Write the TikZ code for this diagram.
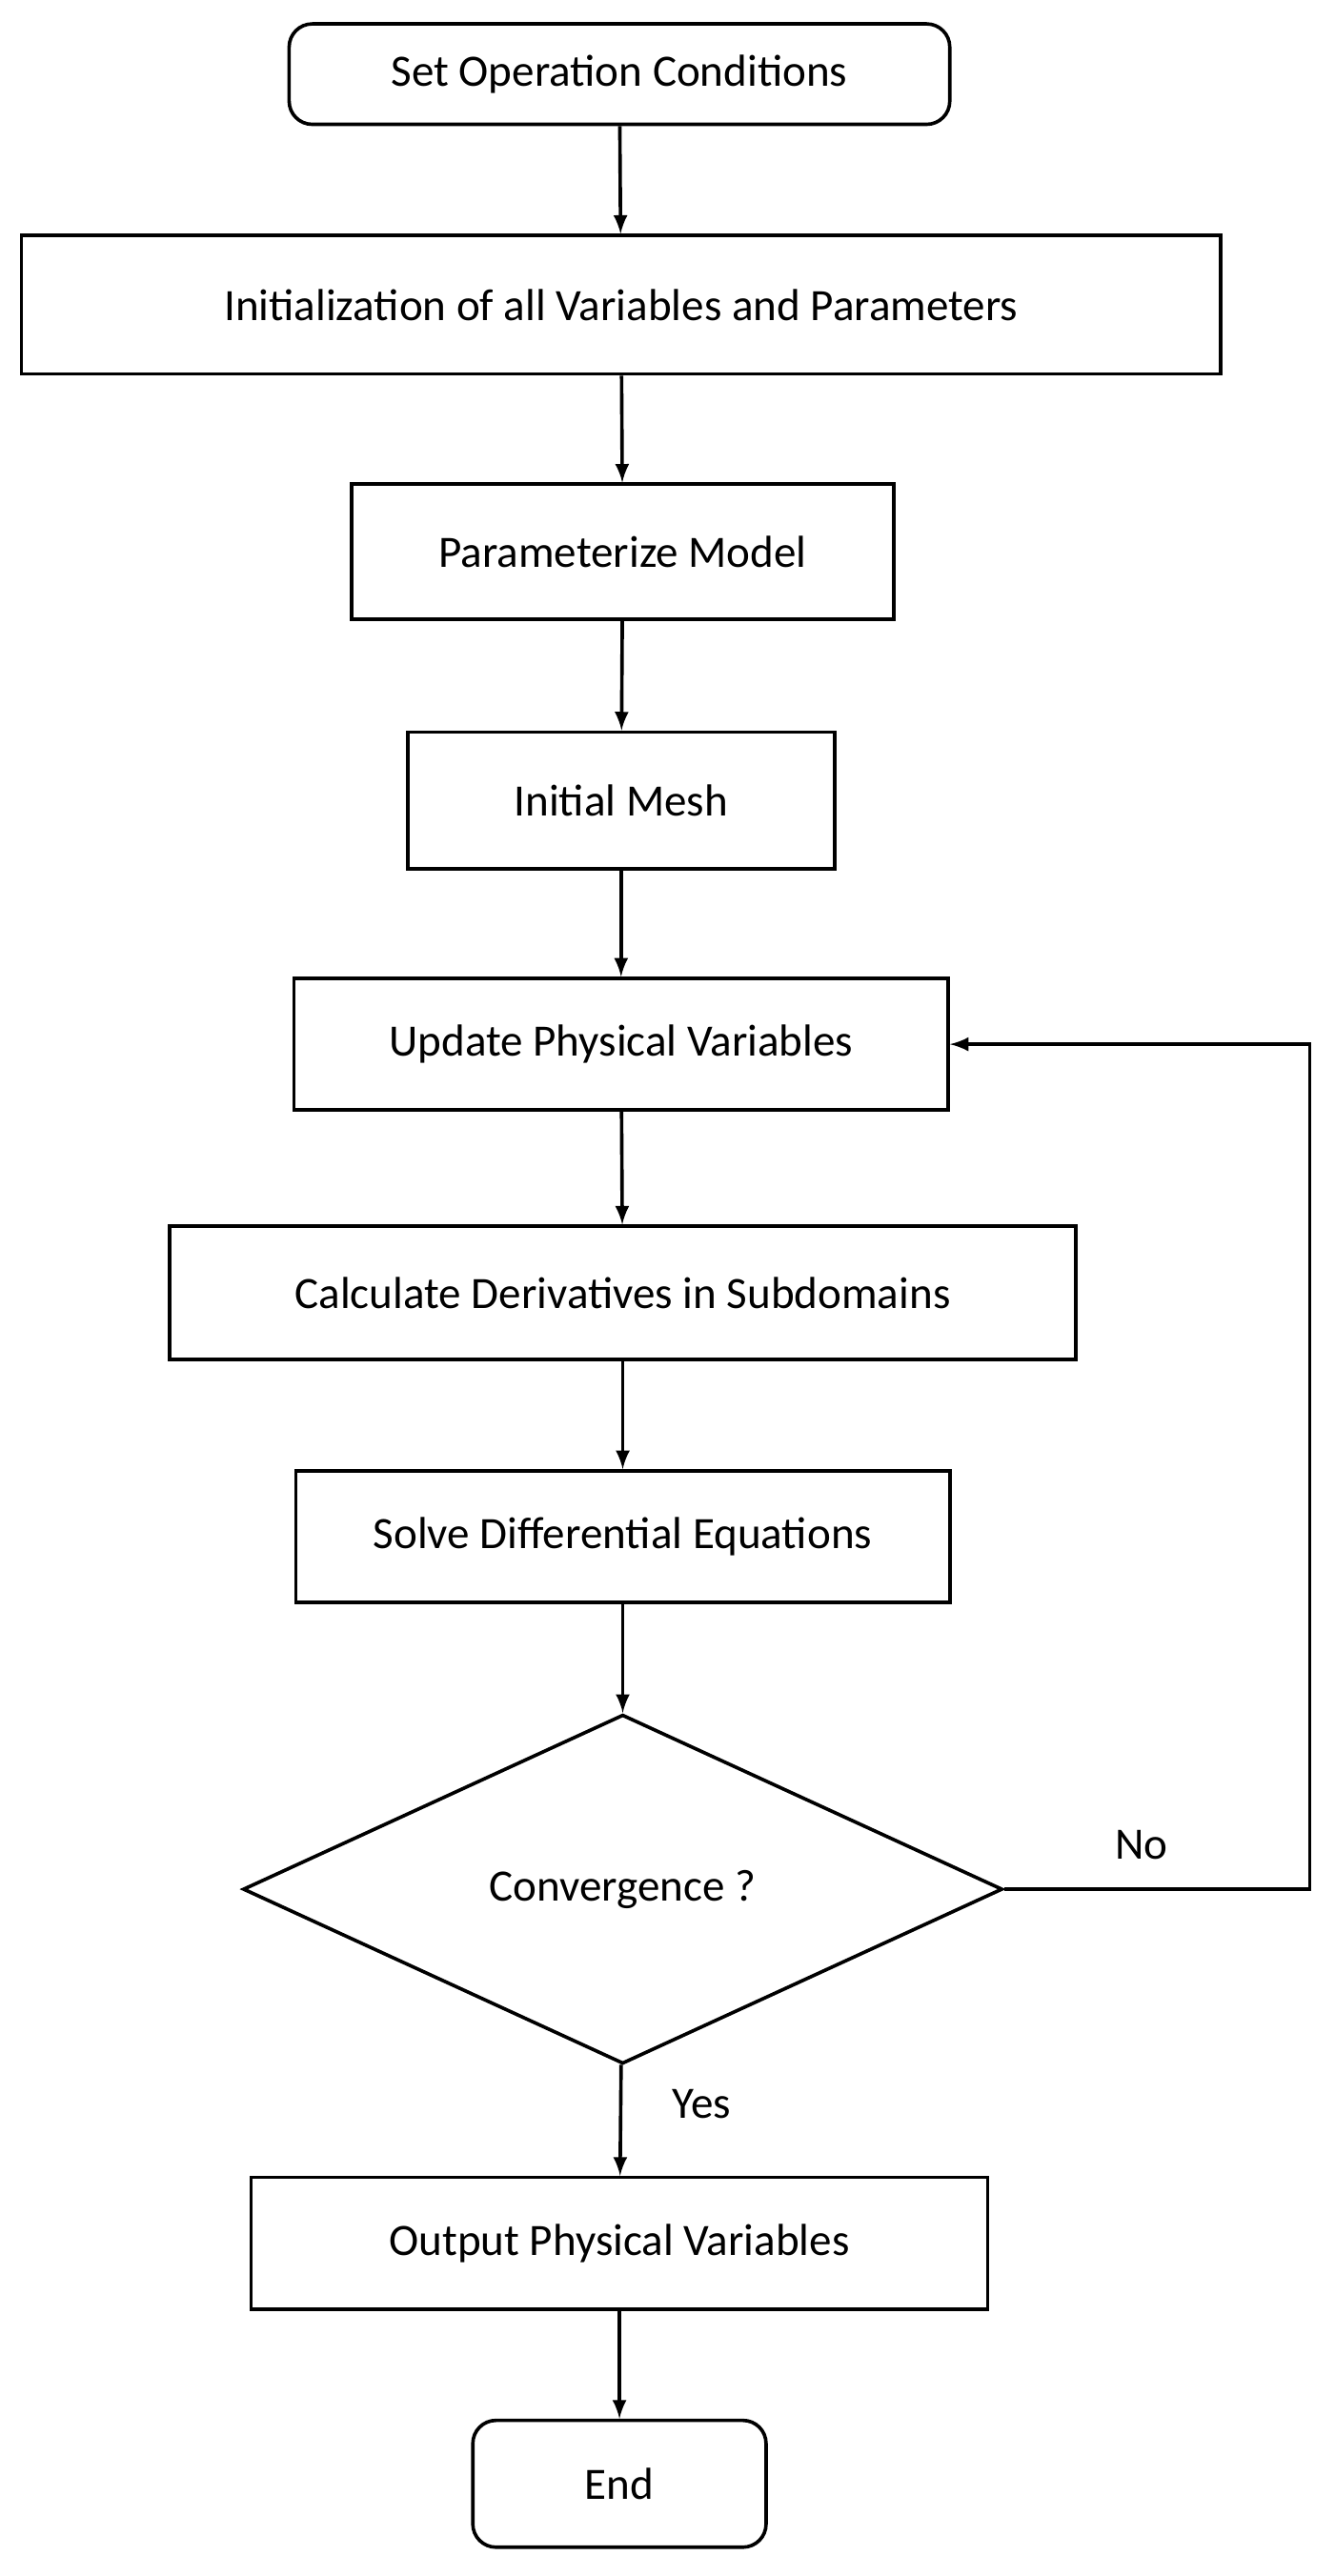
\documentclass[tikz,border=0pt]{standalone}
\usepackage{fontspec}
\setmainfont{Carlito}
\usetikzlibrary{shapes.geometric}

\begin{document}
\begin{tikzpicture}[x=0.02cm, y=-0.02cm,
  box/.style={draw, line width=1.2pt, inner sep=0pt, font=\fontsize{15.5}{18}\selectfont},
  flow/.style={->, line width=1.2pt, >=latex}]
\useasboundingbox (0,0) rectangle (810,1564);

\node[box, rounded corners=8pt, minimum width=401*0.02cm, minimum height=61*0.02cm] (set conditions) at (376,45) {Set Operation Conditions};
\node[box, minimum width=728*0.02cm, minimum height=84*0.02cm] (initialization) at (377,185) {Initialization of all Variables and Parameters};
\node[box, minimum width=329*0.02cm, minimum height=82*0.02cm] (parameterize) at (378,335) {Parameterize Model};
\node[box, minimum width=259*0.02cm, minimum height=83*0.02cm] (initial mesh) at (377,486) {Initial Mesh};
\node[box, minimum width=397*0.02cm, minimum height=80*0.02cm] (update) at (377,634) {Update Physical Variables};
\node[box, minimum width=550*0.02cm, minimum height=81*0.02cm] (derivatives) at (378,785) {Calculate Derivatives in Subdomains};
\node[box, minimum width=397*0.02cm, minimum height=80*0.02cm] (solve) at (378,933) {Solve Differential Equations};
\node[box, diamond, aspect=2.17, minimum width=461*0.02cm, minimum height=212*0.02cm] (convergence) at (378,1147) {Convergence ?};
\node[box, minimum width=447*0.02cm, minimum height=80*0.02cm] (output) at (376,1362) {Output Physical Variables};
\node[box, rounded corners=8pt, minimum width=178*0.02cm, minimum height=77*0.02cm] (end) at (376,1508) {End};

\draw[flow] (set conditions) -- (initialization);
\draw[flow] (initialization) -- (parameterize);
\draw[flow] (parameterize) -- (initial mesh);
\draw[flow] (initial mesh) -- (update);
\draw[flow] (update) -- (derivatives);
\draw[flow] (derivatives) -- (solve);
\draw[flow] (solve) -- (convergence);
\draw[flow] (convergence) -- (output) node[pos=0.35, right=14pt, font=\fontsize{15.5}{18}\selectfont] {Yes};
\draw[flow] (output) -- (end);

% loop back
\coordinate (loop corner) at (795,1147);
\draw[flow] (convergence.east) -- (loop corner) |- (update.east);
\node[font=\fontsize{15.5}{18}\selectfont] (no label) at (693,1120) {No};
\end{tikzpicture}
\end{document}
